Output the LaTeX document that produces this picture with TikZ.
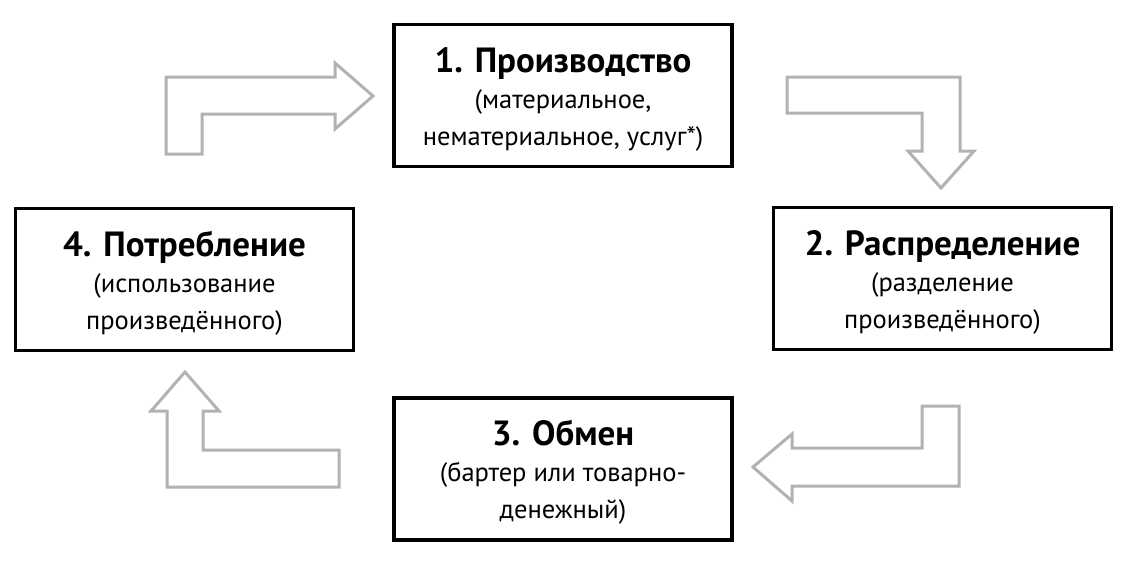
\documentclass[tikz,border=0pt]{standalone}
\usepackage{fontspec}
\setmainfont{PT Sans}
\newcommand{\stagetitle}[1]{{\fontsize{35}{38}\selectfont\bfseries\rule{0pt}{32pt}#1}\\[-1pt]}
\begin{document}
\begin{tikzpicture}[x = 1pt, y = -1pt,
        stage/.style = {draw, line width = 3.3pt, minimum width = 338pt, minimum height = 142pt,
            align = center, inner sep = 0pt, font = \fontsize{26.5}{37}\selectfont},
        blockarrow/.style = {draw = black!30, line width = 3pt, line join = miter}]
    \useasboundingbox (0, 0) rectangle (1128, 568);
    \node [stage] (prod) at (563, 95.5) {\stagetitle{1. Производство}(материальное,\\нематериальное, услуг*)};
    \node [stage] (distr) at (942.5, 278.5) {\stagetitle{2. Распределение}(разделение\\произведённого)};
    \node [stage] (exch) at (563, 469) {\stagetitle{3. Обмен}(бартер или товарно-\\денежный)};
    \node [stage] (cons) at (184.5, 279.5) {\stagetitle{4. Потребление}(использование\\произведённого)};
    \draw [blockarrow] (166, 154) -- (166, 77) -- (335, 77) -- (335, 63) -- (373, 96) -- (335, 129) -- (335, 114) -- (202, 114) -- (202, 154) -- cycle;
    \draw [blockarrow] (787, 77) -- (960, 77) -- (960, 151) -- (974, 151) -- (941, 188) -- (908, 151) -- (922, 151) -- (922, 113) -- (787, 113) -- cycle;
    \draw [blockarrow] (959, 406) -- (959, 486) -- (792, 486) -- (792, 501) -- (753, 467) -- (792, 434) -- (792, 448) -- (922, 448) -- (922, 406) -- cycle;
    \draw [blockarrow] (167, 487) -- (167, 411) -- (151, 411) -- (185, 372) -- (219, 411) -- (203, 411) -- (203, 450) -- (339, 450) -- (339, 487) -- cycle;
\end{tikzpicture}
\end{document}
